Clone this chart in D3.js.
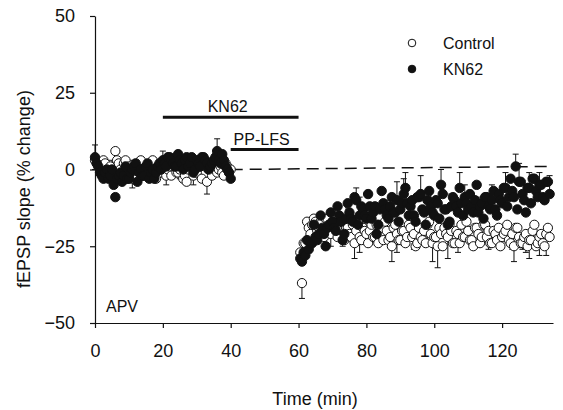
<!DOCTYPE html>
<html>
<head>
<meta charset="utf-8">
<script src="https://cdn.jsdelivr.net/npm/d3@7"></script>
<style>
  body { margin: 0; background: #fff; }
  svg { display: block; font-family: "Liberation Sans", Arial, sans-serif; }
</style>
</head>
<body>
<div id="chart"></div>
<script>
/* ---- data ------------------------------------------------------------ */
// baseline (min 0-40), sampled every 30 s: whole minutes ...
var baseTime = [0,1,2,3,4,5,6,7,8,9,10,11,12,13,14,15,16,17,18,19,20,
                21,22,23,24,25,26,27,28,29,30,31,32,33,34,35,36,37,38,39,40];
var ctrlBase = [3,1,-1,2,0,-2,6,2,-1,3, 1,-3,0,2,-2,1,-1,3,-3,0,
                2,-2,1,3,-1,0,-3,-4,2,-2, -1,1,3,-4,0,2,-1,1,-2,1, 0];
var ctrlBaseErr = [3,1,1,3,1,1,4,1,1,3, 1,3,1,1,1,1,1,3,1,1,
                   1,3,1,1,1,3,1,1,1,3, 1,1,1,4,1,1,1,1,1,3, 1];
var kn62Base = [4,1,-2,-1,-3,0,-9,-2,-4,1, -3,0,2,-1,-2,1,-3,0,-1,2,
                3,1,4,2,1,3,0,4,2,-1, 3,1,4,2,1,3,6,2,3,0, -3];
var kn62BaseErr = [4,1,3,1,1,3,1,1,1,1, 1,3,1,1,3,1,1,1,1,1,
                   3,1,1,1,1,1,3,1,1,1, 1,3,1,1,1,1,4,1,1,1, 3];
// ... and half minutes
var baseHalfTime = [0.5,1.5,2.5,3.5,4.5,5.5,6.5,7.5,8.5,9.5, 10.5,11.5,12.5,13.5,14.5,15.5,16.5,17.5,18.5,19.5,
                    20.5,21.5,22.5,23.5,24.5,25.5,26.5,27.5,28.5,29.5, 30.5,31.5,32.5,33.5,34.5,35.5,36.5,37.5,38.5,39.5];
var ctrlBaseB = [2,0,3,-1,1,-3,3,0,2,-2, 0,1,-2,3,0,-1,2,-2,1,-1,
                 3,0,-2,2,-1,1,-2,0,3,-1, 2,-3,1,0,-2,3,0,-1,2,-1];
var ctrlBaseBErr = [1,1,1,1,1,1,1,1,1,1, 1,1,1,1,1,1,1,1,1,1,
                    1,1,1,1,1,1,1,1,1,1, 1,1,1,1,1,1,1,1,1,1];
var kn62BaseB = [2,-1,-3,0,-2,-5,-3,-1,-2,-3, -1,1,-4,0,-2,2,-1,-3,1,0,
                 2,4,3,1,5,2,3,1,4,0, 2,4,3,0,2,4,3,5,1,-1];
var kn62BaseBErr = [1,1,1,1,1,1,1,1,1,1, 1,1,1,1,1,1,1,1,1,1,
                    1,1,1,1,1,1,1,1,1,1, 1,1,1,1,1,1,1,1,1,1];

// after PP-LFS (min 60.5-134): whole minutes ...
var postTime = [61,62,63,64,65,66,67,68,69,70, 71,72,73,74,75,76,77,78,79,80,
                81,82,83,84,85,86,87,88,89,90, 91,92,93,94,95,96,97,98,99,100,
                101,102,103,104,105,106,107,108,109,110, 111,112,113,114,115,116,117,118,119,120,
                121,122,123,124,125,126,127,128,129,130, 131,132,133,134];
var ctrlPost = [-37,-24,-19,-18,-17,-19,-17,-16,-18,-17, -19,-18,-20,-19,-21,-18,-20,-22,-19,-21,
                -20,-22,-18,-21,-23,-20,-22,-19,-21,-23, -20,-22,-19,-21,-24,-22,-20,-18,-21,-22,
                -25,-21,-19,-22,-20,-24,-21,-18,-22,-20, -23,-19,-21,-22,-18,-20,-24,-21,-19,-22,
                -20,-23,-21,-19,-22,-24,-21,-23,-20,-25, -22,-24,-21,-22];
var ctrlPostErr = [5,1,4,1,2,1,1,4,1,2, 1,1,5,1,2,1,1,5,1,2, 1,1,5,1,1,2,1,1,6,1,
                   1,2,1,5,1,1,2,6,1,1, 7,1,2,7,1,1,6,1,1,2, 1,5,1,1,2,6,1,1,5,1,
                   1,1,5,1,1,2,6,6,1,1, 6,1,7,1];
var kn62Post = [-30,-28,-26,-24,-22,-21,-19,-25,-18,-17, -20,-15,-23,-16,-14,-17,-10,-15,-13,-16,
                -12,-14,-21,-13,-11,-15,-12,-14,-10,-13, -8,-11,-12,-15,-9,-8,-14,-10,-12,-15,
                -11,-5,-13,-18,-12,-10,-14,-11,-9,-13, -12,-10,-14,-11,-9,-12,-10,-13,-8,-11,
                -6,-9,-7,1,-4,-8,-14,-6,-3,-7, -5,-9,-4,-8];
var kn62PostErr = [6,1,4,1,5,1,1,1,4,1, 4,1,1,5,1,1,4,6,1,2, 1,1,4,1,1,5,1,1,6,1,
                   5,1,1,5,1,6,1,1,5,1, 1,5,1,1,4,1,1,1,4,1, 1,1,5,1,1,1,5,1,1,1,
                   5,1,1,4,6,1,1,5,1,1, 4,1,1,6];
// ... and half minutes
var postHalfTime = [60.5,61.5,62.5,63.5,64.5,65.5,66.5,67.5,68.5,69.5, 70.5,71.5,72.5,73.5,74.5,75.5,76.5,77.5,78.5,79.5,
                    80.5,81.5,82.5,83.5,84.5,85.5,86.5,87.5,88.5,89.5, 90.5,91.5,92.5,93.5,94.5,95.5,96.5,97.5,98.5,99.5,
                    100.5,101.5,102.5,103.5,104.5,105.5,106.5,107.5,108.5,109.5, 110.5,111.5,112.5,113.5,114.5,115.5,116.5,117.5,118.5,119.5,
                    120.5,121.5,122.5,123.5,124.5,125.5,126.5,127.5,128.5,129.5, 130.5,131.5,132.5,133.5];
var ctrlPostB = [-27,-24,-17,-21,-16,-20,-17,-22,-16,-21, -18,-22,-17,-23,-19,-22,-24,-17,-23,-20,
                 -24,-18,-22,-24,-19,-17,-23,-25,-18,-23, -20,-24,-18,-22,-25,-19,-23,-24,-17,-24,
                 -22,-19,-25,-21,-18,-24,-20,-24,-22,-17, -23,-25,-19,-24,-18,-22,-24,-20,-23,-25,
                 -21,-18,-24,-25,-19,-24,-22,-25,-23,-18, -24,-21,-25,-19];
var ctrlPostBErr = [1,1,1,1,1,1,1,1,1,4, 1,1,1,1,1,1,5,1,1,1, 1,1,1,1,1,1,1,5,1,1,
                    1,1,1,1,1,1,1,1,1,6, 1,1,1,1,1,1,1,1,1,1, 1,1,1,1,1,1,1,1,1,1,
                    1,1,1,5,1,1,1,1,1,1, 1,1,1,1];
var kn62PostB = [-29,-27,-23,-24,-18,-23,-15,-21,-19,-14, -19,-12,-17,-21,-11,-16,-9,-18,-12,-15,
                 -8,-16,-12,-18,-7,-13,-16,-9,-14,-17, -11,-6,-15,-10,-17,-9,-13,-18,-7,-14,
                 -10,-16,-8,-13,-17,-9,-12,-6,-15,-11, -8,-14,-5,-12,-16,-9,-13,-7,-15,-10,
                 -6,-12,-3,-9,-13,-4,-10,-6,-11,-3, -9,-5,-10,-4];
var kn62PostBErr = [1,1,1,1,1,1,1,1,1,1, 1,1,1,1,1,1,1,1,1,1, 1,1,1,1,1,1,1,1,1,1,
                    1,5,1,1,1,1,1,1,1,1, 1,1,1,1,1,1,1,5,1,1, 1,1,1,1,1,1,1,1,1,1,
                    1,1,1,1,1,1,1,1,1,1, 1,1,1,1];

// dashed reference line (time, value)
var refTime = [40, 135];
var refValue = [0, 1];

// drug / stimulation bars
var barNames = ["KN62", "PP-LFS"];
var barStart = [20, 40];
var barEnd = [60, 60];
var barLevel = [17, 6.5];

var xTicks = [0, 20, 40, 60, 80, 100, 120];
var yTicks = [-50, -25, 0, 25, 50];
var seriesNames = ["Control", "KN62"];

/* ---- build the chart ------------------------------------------------- */
var width = 563,
    height = 410;
var ink = "#111";

var svg = d3.select("#chart")
  .append("svg")
    .attr("width", width)
    .attr("height", height);

var x = d3.scaleLinear().domain([0, 135]).range([95, 553]);
var y = d3.scaleLinear().domain([-50, 50]).range([323, 16]);

// axes
var xAxis = svg.append("g")
    .attr("transform", "translate(0," + y(-50) + ")")
    .call(d3.axisBottom(x).tickValues(xTicks).tickSize(5).tickSizeOuter(0).tickPadding(16));
var yAxis = svg.append("g")
    .attr("transform", "translate(" + x(0) + ",0)")
    .call(d3.axisLeft(y).tickValues(yTicks).tickSize(5).tickSizeOuter(0).tickPadding(15));

[xAxis, yAxis].forEach(function(a) {
  a.select(".domain").attr("stroke", ink).attr("stroke-width", 1.2);
  a.selectAll(".tick line").attr("stroke", ink).attr("stroke-width", 1.2);
  a.selectAll(".tick text")
    .attr("fill", ink)
    .style("font-size", "18px")
    .style("font-family", "'Liberation Sans', Arial, sans-serif");
});

// axis titles
svg.append("text")
  .attr("x", 315)
  .attr("y", 405)
  .attr("text-anchor", "middle")
  .style("font-size", "18px")
  .attr("fill", ink)
  .text("Time (min)");

svg.append("text")
  .attr("transform", "translate(30,189) rotate(-90)")
  .attr("text-anchor", "middle")
  .style("font-size", "18px")
  .attr("fill", ink)
  .text("fEPSP slope (% change)");

// dashed line
svg.append("line")
  .attr("x1", x(refTime[0])).attr("y1", y(refValue[0]))
  .attr("x2", x(refTime[1])).attr("y2", y(refValue[1]))
  .attr("stroke", ink)
  .attr("stroke-width", 1.5)
  .attr("stroke-dasharray", "12,7");

// horizontal bars with labels
barNames.forEach(function(name, i) {
  svg.append("line")
    .attr("x1", x(barStart[i])).attr("x2", x(barEnd[i]))
    .attr("y1", y(barLevel[i])).attr("y2", y(barLevel[i]))
    .attr("stroke", ink)
    .attr("stroke-width", 3);
  svg.append("text")
    .attr("x", x((barStart[i] + barEnd[i]) / 2) - 3)
    .attr("y", y(barLevel[i]) - 5)
    .attr("text-anchor", "middle")
    .style("font-size", "16px")
    .attr("fill", ink)
    .text(name);
});

// APV label
svg.append("text")
  .attr("x", 106)
  .attr("y", 312)
  .style("font-size", "16px")
  .attr("fill", ink)
  .text("APV");

// assemble points
function points(times, vals, errs) {
  return times.map(function(t, i) { return {t: t, v: vals[i], e: errs[i]}; });
}
var ctrl = points(baseTime, ctrlBase, ctrlBaseErr)
  .concat(points(baseHalfTime, ctrlBaseB, ctrlBaseBErr))
  .concat(points(postTime, ctrlPost, ctrlPostErr))
  .concat(points(postHalfTime, ctrlPostB, ctrlPostBErr));
var kn62 = points(baseTime, kn62Base, kn62BaseErr)
  .concat(points(baseHalfTime, kn62BaseB, kn62BaseBErr))
  .concat(points(postTime, kn62Post, kn62PostErr))
  .concat(points(postHalfTime, kn62PostB, kn62PostBErr));
ctrl.sort(function(a, b) { return a.t - b.t; });
kn62.sort(function(a, b) { return a.t - b.t; });

// error bars: control downward, KN62 upward
function drawErr(data, dir) {
  var g = svg.append("g").attr("stroke", ink).attr("stroke-width", 1);
  g.selectAll("line.stem")
    .data(data)
    .enter()
    .append("line")
      .attr("x1", function(d) { return x(d.t); })
      .attr("x2", function(d) { return x(d.t); })
      .attr("y1", function(d) { return y(d.v); })
      .attr("y2", function(d) { return y(d.v + dir * d.e); });
  g.selectAll("line.cap")
    .data(data)
    .enter()
    .append("line")
      .attr("x1", function(d) { return x(d.t) - 3; })
      .attr("x2", function(d) { return x(d.t) + 3; })
      .attr("y1", function(d) { return y(d.v + dir * d.e); })
      .attr("y2", function(d) { return y(d.v + dir * d.e); });
}
drawErr(ctrl, -1);
drawErr(kn62, 1);

// circles
svg.append("g")
  .selectAll("circle")
  .data(ctrl)
  .enter()
  .append("circle")
    .attr("cx", function(d) { return x(d.t); })
    .attr("cy", function(d) { return y(d.v); })
    .attr("r", 4.6)
    .attr("fill", "#fff")
    .attr("stroke", ink)
    .attr("stroke-width", 1);

svg.append("g")
  .selectAll("circle")
  .data(kn62)
  .enter()
  .append("circle")
    .attr("cx", function(d) { return x(d.t); })
    .attr("cy", function(d) { return y(d.v); })
    .attr("r", 4.7)
    .attr("fill", ink)
    .attr("stroke", ink)
    .attr("stroke-width", 1);

// legend
var legend = svg.append("g");
legend.selectAll("circle")
  .data(seriesNames)
  .enter()
  .append("circle")
    .attr("cx", 412)
    .attr("cy", function(d, i) { return 43 + i * 26; })
    .attr("r", 3.8)
    .attr("fill", function(d, i) { return i === 0 ? "#fff" : ink; })
    .attr("stroke", ink)
    .attr("stroke-width", 1);
legend.selectAll("text")
  .data(seriesNames)
  .enter()
  .append("text")
    .attr("x", 443)
    .attr("y", function(d, i) { return 49 + i * 26; })
    .style("font-size", "16px")
    .attr("fill", ink)
    .text(function(d) { return d; });
</script>
</body>
</html>
